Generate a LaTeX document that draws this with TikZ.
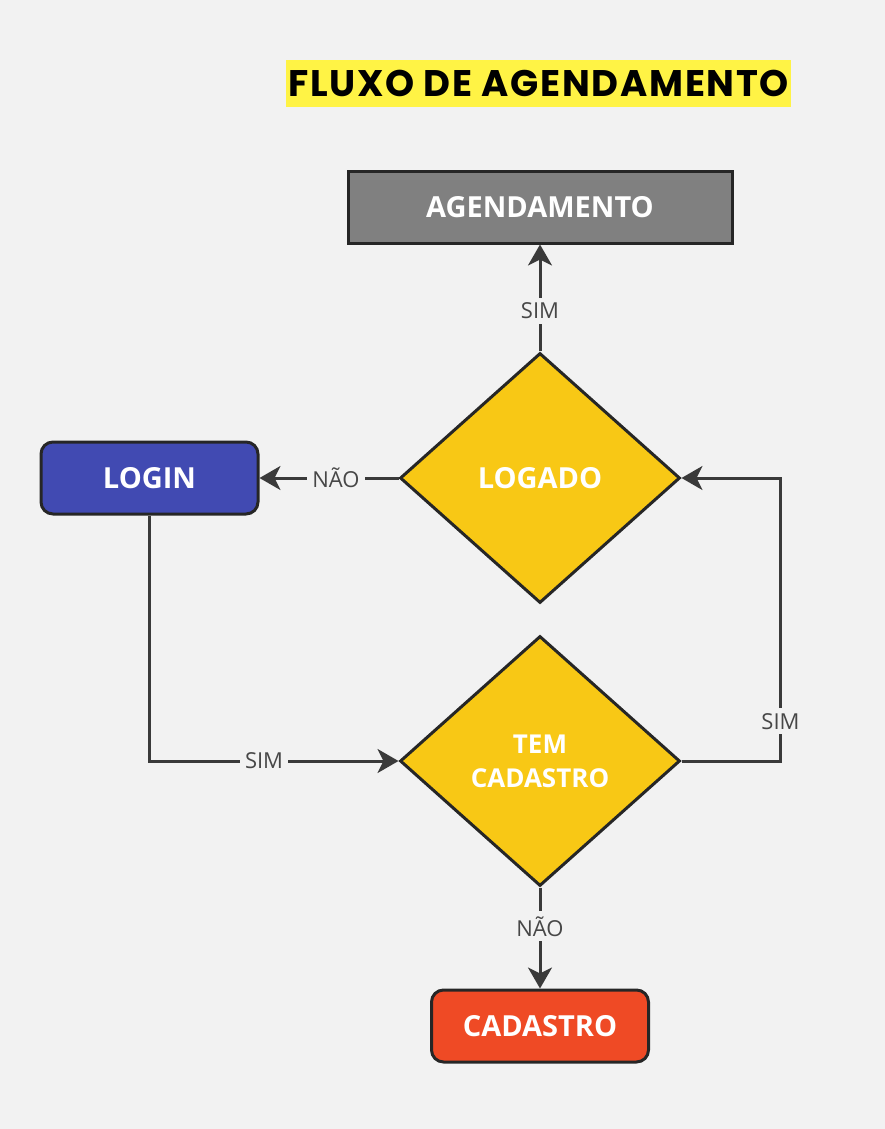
\documentclass[tikz,border=0pt]{standalone}
\usepackage{fontspec}
\setmainfont{Open Sans}
\newfontfamily\titlefont{Poppins}[LetterSpace=4.5]
\usetikzlibrary{arrows.meta,positioning,shapes.geometric}
\definecolor{bgcol}{HTML}{F2F2F2}
\definecolor{edgecol}{HTML}{3A3A3A}
\definecolor{lblcol}{HTML}{474747}
\definecolor{agendcol}{HTML}{808080}
\definecolor{decicol}{HTML}{F8C815}
\definecolor{logincol}{HTML}{414AB2}
\definecolor{cadcol}{HTML}{EF4A25}
\definecolor{titlebg}{HTML}{FFF345}

\begin{document}
\begin{tikzpicture}[x=1pt, y=-1pt, >={Stealth[length=21pt, width=24pt, inset=6pt]},
  blk/.style={draw=black!85, line width=3pt, text=white, inner sep=0pt,
    font=\fontsize{29}{34}\selectfont\bfseries, align=center},
  dec/.style={blk, diamond, aspect=1.12, fill=decicol, minimum width=280pt, minimum height=250pt},
  lbl/.style={fill=bgcol, text=lblcol, inner sep=5pt, font=\fontsize{22}{24}\selectfont},
  arr/.style={->, draw=edgecol, line width=3pt}]
\useasboundingbox[fill=bgcol] (0,0) rectangle (885,1129);
\node[fill=titlebg, minimum width=505pt, minimum height=47pt, inner sep=0pt,
  font=\titlefont\fontsize{37}{40}\selectfont\bfseries] (title) at (538.5,83.5) {FLUXO DE AGENDAMENTO};
\node[dec] (logado) at (540,478) {LOGADO};
\node[blk, fill=agendcol, minimum width=384pt, minimum height=72pt, above=107pt of logado] (agend) {AGENDAMENTO};
\node[blk, fill=logincol, rounded corners=12pt, minimum width=217pt, minimum height=72pt, left=139pt of logado] (login) {LOGIN};
\node[dec, below=30pt of logado, font=\fontsize{26}{34}\selectfont\bfseries] (tem) {TEM\\CADASTRO};
\node[blk, fill=cadcol, rounded corners=12pt, minimum width=217pt, minimum height=72pt, below=101pt of tem] (cad) {CADASTRO};
\coordinate[right=99pt of tem.east] (volta);
\draw[arr] (logado) -- node[lbl, pos=0.38]{SIM} (agend);
\draw[arr] (logado) -- node[lbl, pos=0.45]{NÃO} (login);
\draw[arr] (login.south) |- node[lbl, pos=0.73]{SIM} (tem.west);
\draw[arr] (tem.east) -- (volta) |- node[lbl, pos=0.07]{SIM} (logado.east);
\draw[arr] (tem) -- node[lbl, pos=0.385]{NÃO} (cad);
\end{tikzpicture}
\end{document}
